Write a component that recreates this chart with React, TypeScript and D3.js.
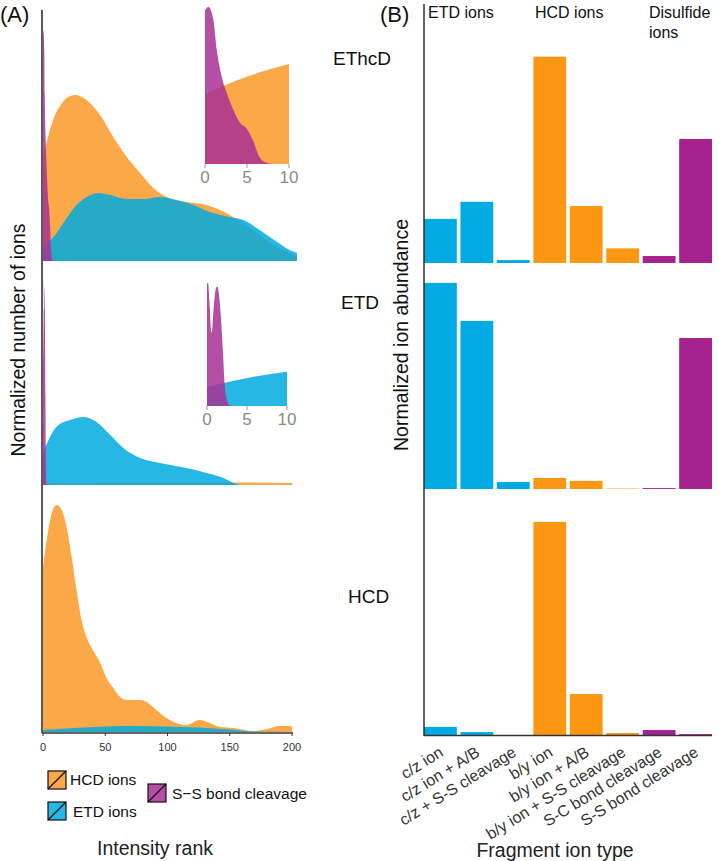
import React from 'react';
import * as d3 from 'd3';

// ---------- Panel A data: [intensity rank, relative density] ----------
const rankTicks = [0, 50, 100, 150, 200];
const insetTicks = [0, 5, 10];

const ethcdHCD: [number, number][] = [
  [0, 103], [2.6, 117], [4.9, 128], [7.3, 138], [10, 147], [13.7, 155], [19, 163], [25.7, 166],
  [35, 161], [45.8, 146], [56.5, 124], [67.2, 104], [78, 88], [88.6, 73], [99.4, 64], [115.4, 59],
  [131.5, 56], [142, 51], [150, 46], [160, 38], [175, 25], [190, 13], [204, 5],
];
const ethcdETD: [number, number][] = [
  [0, 9], [1.6, 13], [11, 28], [19, 43], [27, 56], [35, 64], [44.4, 68], [53.8, 66], [67.2, 62],
  [80.6, 62], [94, 64], [107, 61], [120.7, 56], [134, 49], [150, 44], [161, 41], [174, 31],
  [188, 19], [198, 11], [204, 8],
];
const ethcdSS: [number, number][] = [
  [0, 226], [0.4, 231], [1, 212], [1.4, 168], [2, 128], [2.6, 104], [3.4, 79], [4.2, 60],
  [4.9, 53], [5.7, 35], [6.5, 10], [7.3, 2], [8.1, 0],
];

const etdETD: [number, number][] = [
  [0, 32], [2, 38], [5.6, 48], [10, 57], [13.7, 61], [21.7, 65], [32.4, 68], [43, 63], [54, 50],
  [64.5, 37], [78, 27], [94, 22], [115, 17], [131.5, 12], [145, 7], [153, 2], [158, 0],
];
const etdHCD: [number, number][] = [[0, 2], [50, 2.5], [100, 2.5], [150, 2.5], [200, 2]];
const etdSS: [number, number][] = [
  [0, 205], [0.15, 204], [0.3, 175], [0.58, 122], [0.85, 167], [1.1, 195], [1.3, 199],
  [1.6, 172], [2, 89], [2.2, 38], [2.5, 10], [2.7, 2], [3, 0],
];

const hcdHCD: [number, number][] = [
  [0, 165], [3, 192], [7, 219], [11, 227], [15, 222], [19, 205], [23, 175], [27, 142], [31, 112],
  [35, 95], [40, 82], [46, 69], [51, 54], [56.5, 44], [62, 35], [67, 32], [78, 32], [83, 30],
  [91, 22], [99, 14], [107, 9], [115, 7], [126, 12], [134, 9], [142, 5], [153, 4], [169, 1],
  [180, 3], [190, 6], [198, 6], [200, 5],
];
const hcdETD: [number, number][] = [
  [0, 2], [25, 4], [50, 5.5], [75, 6], [100, 5.5], [125, 4.5], [150, 2.5], [170, 0.5], [200, 0],
];

const legendItems = ['HCD ions', 'ETD ions', 'S−S bond cleavage'];

// ---------- Panel B data ----------
const fragmentTypes = [
  'c/z ion', 'c/z ion + A/B', 'c/z + S-S cleavage', 'b/y ion', 'b/y ion + A/B',
  'b/y ion + S-S cleavage', 'S-C bond cleavage', 'S-S bond cleavage',
];
const fragmentGroup = ['ETD', 'ETD', 'ETD', 'HCD', 'HCD', 'HCD', 'SS', 'SS'];
const ethcdAbundance = [0.196, 0.272, 0.013, 0.917, 0.253, 0.065, 0.031, 0.551];
const etdAbundance = [0.916, 0.747, 0.031, 0.049, 0.036, 0.002, 0.004, 0.671];
const hcdAbundance = [0.036, 0.013, 0, 0.947, 0.182, 0.009, 0.022, 0.004];
const methods = ['EThcD', 'ETD', 'HCD'];

const FONT = '"Liberation Sans", Arial, Helvetica, sans-serif';
const densColor = { HCD: '#fa9928', ETD: '#00aadf', SS: '#a83095' };
const barColor: Record<string, string> = { ETD: '#00abe4', HCD: '#fb9712', SS: '#a6228e' };
const AREA_OP = 0.85;

export default function App() {
  const x = d3.scaleLinear().domain([0, 200]).range([43, 292]);
  const panelBase = [261, 485, 732];
  const panelH = 240;

  const areaPath = (data: [number, number][], xs: d3.ScaleLinear<number, number>, ys: d3.ScaleLinear<number, number>) =>
    d3.area<[number, number]>()
      .x((d) => xs(d[0]))
      .y0(ys(0))
      .y1((d) => ys(d[1]))
      .curve(d3.curveMonotoneX)(data) || '';

  const panels = [
    { HCD: ethcdHCD, ETD: ethcdETD, SS: ethcdSS },
    { HCD: etdHCD, ETD: etdETD, SS: etdSS },
    { HCD: hcdHCD, ETD: hcdETD, SS: null as [number, number][] | null },
  ];

  const insets = [
    { panel: 0, x0: 205, x1: 289, base: 164, top: 7, max: 231, series: [['HCD', ethcdHCD], ['SS', ethcdSS]] },
    { panel: 1, x0: 207, x1: 287, base: 406, top: 283, max: 205, series: [['ETD', etdETD], ['SS', etdSS]] },
  ] as const;

  // Panel B scales
  const xb = d3.scaleBand<string>().domain(fragmentTypes).range([424, 712]).paddingInner(0.1).paddingOuter(0);
  const barBases = [263, 489, 735];
  const barH = 225;
  const barSets = [ethcdAbundance, etdAbundance, hcdAbundance];
  const methodLabelPos = [[333, 65], [341, 309], [348, 603]];

  return (
    <svg width={719} height={861} style={{ position: 'absolute', left: 0, top: 0, background: '#fff' }} fontFamily={FONT}>
      <rect x={0} y={0} width={719} height={861} fill="#fff" />
      {/* ================= Panel A ================= */}
      <text x={0} y={22} fontSize={22} fill="#111">(A)</text>
      {panels.map((p, i) => {
        const y = d3.scaleLinear().domain([0, panelH]).range([panelBase[i], panelBase[i] - panelH]);
        return (
          <g key={i}>
            <path d={areaPath(p.HCD, x, y)} fill={densColor.HCD} fillOpacity={AREA_OP} />
            <path d={areaPath(p.ETD, x, y)} fill={densColor.ETD} fillOpacity={AREA_OP} />
            {p.SS && <path d={areaPath(p.SS, x, y)} fill={densColor.SS} fillOpacity={AREA_OP} />}
          </g>
        );
      })}
      {insets.map((ins, k) => {
        const xi = d3.scaleLinear().domain([0, 10]).range([ins.x0, ins.x1]);
        const yi = d3.scaleLinear().domain([0, ins.max]).range([ins.base, ins.top]);
        return (
          <g key={k}>
            {ins.series.map(([key, data]) => (
              <path
                key={key}
                d={areaPath((data as [number, number][]).filter((d) => d[0] <= 10), xi, yi)}
                fill={densColor[key as 'HCD' | 'ETD' | 'SS']}
                fillOpacity={AREA_OP}
              />
            ))}
            {insetTicks.map((t) => (
              <g key={t}>
                <line x1={xi(t)} x2={xi(t)} y1={ins.base} y2={ins.base + 4} stroke="#999" strokeWidth={1} />
                <text x={xi(t)} y={ins.base + 19} fontSize={17} fill="#8a8a8a" textAnchor="middle">{t}</text>
              </g>
            ))}
          </g>
        );
      })}
      {/* axes */}
      <line x1={42} x2={42} y1={10} y2={733} stroke="#333" strokeWidth={1.6} />
      <line x1={42} x2={293} y1={733} y2={733} stroke="#333" strokeWidth={1.4} />
      {rankTicks.map((t) => (
        <g key={t}>
          <line x1={x(t)} x2={x(t)} y1={733} y2={736} stroke="#333" strokeWidth={1} />
          <text x={x(t)} y={751} fontSize={11} fill="#333" textAnchor="middle">{t}</text>
        </g>
      ))}
      <text transform="translate(25,340) rotate(-90)" fontSize={19.5} textAnchor="middle" fill="#111">Normalized number of ions</text>
      {/* legend */}
      {[
        { key: 'HCD', x: 48, y: 771, tx: 70, ty: 785 },
        { key: 'ETD', x: 48, y: 802, tx: 73, ty: 817 },
        { key: 'SS', x: 148, y: 784, tx: 172, ty: 799 },
      ].map((l, i) => (
        <g key={l.key}>
          <rect x={l.x} y={l.y} width={18} height={18} fill="#fff" />
          <rect x={l.x} y={l.y} width={18} height={18} fill={densColor[l.key as 'HCD']} fillOpacity={AREA_OP} stroke="#111" strokeWidth={1.2} />
          <line x1={l.x} y1={l.y + 18} x2={l.x + 18} y2={l.y} stroke="#111" strokeWidth={1.2} />
          <text x={l.tx} y={l.ty} fontSize={15.5} fill="#111">{legendItems[i]}</text>
        </g>
      ))}
      <text x={155} y={855} fontSize={19.5} textAnchor="middle" fill="#222">Intensity rank</text>

      {/* ================= Panel B ================= */}
      <text x={380} y={22} fontSize={22} fill="#111">(B)</text>
      <text x={428} y={18} fontSize={16} fill="#111">ETD ions</text>
      <text x={535} y={18} fontSize={16} fill="#111">HCD ions</text>
      <text x={649} y={18} fontSize={16} fill="#111">Disulfide</text>
      <text x={649} y={38} fontSize={16} fill="#111">ions</text>
      {barSets.map((vals, i) => {
        const y = d3.scaleLinear().domain([0, 1]).range([barBases[i], barBases[i] - barH]);
        return (
          <g key={i}>
            {fragmentTypes.map((f, j) => (
              <rect
                key={f}
                x={xb(f)}
                width={xb.bandwidth()}
                y={y(vals[j])}
                height={y(0) - y(vals[j])}
                fill={barColor[fragmentGroup[j]]}
              />
            ))}
            <text x={methodLabelPos[i][0]} y={methodLabelPos[i][1]} fontSize={19} fill="#111">{methods[i]}</text>
          </g>
        );
      })}
      <line x1={424} x2={424} y1={4} y2={736} stroke="#222" strokeWidth={1.4} />
      <line x1={424} x2={712} y1={735.5} y2={735.5} stroke="#333" strokeWidth={1.6} />
      {fragmentTypes.map((f) => (
        <text
          key={f}
          transform={`translate(${(xb(f) || 0) + xb.bandwidth() / 2 + 4},755) rotate(-32)`}
          fontSize={16}
          textAnchor="end"
          fill="#333"
        >
          {f}
        </text>
      ))}
      <text transform="translate(408,335) rotate(-90)" fontSize={19.5} textAnchor="middle" fill="#111">Normalized ion abundance</text>
      <text x={555} y={857} fontSize={19.5} textAnchor="middle" fill="#222">Fragment ion type</text>
    </svg>
  );
}
